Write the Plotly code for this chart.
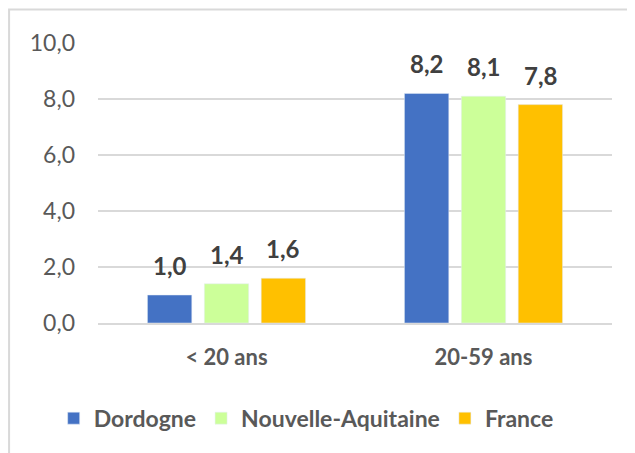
import plotly.graph_objects as go

categories = ["< 20 ans", "20-59 ans"]
series_names = ["Dordogne", "Nouvelle-Aquitaine", "France"]
dordogne = [1.0, 8.2]
nouvelle_aquitaine = [1.4, 8.1]
france = [1.6, 7.8]
tick_vals = [0, 2, 4, 6, 8, 10]

colors = ["#4472C4", "#CCFF99", "#FFC000"]
font_fam = "Lato, Open Sans, sans-serif"
BARGAP = 0.336
GROUPGAP = 0.22

fig = go.Figure()
all_series = [dordogne, nouvelle_aquitaine, france]
for name, vals, col in zip(series_names, all_series, colors):
    fig.add_trace(go.Bar(x=categories, y=vals, name=name, marker_color=col))

# data labels placed above each bar via data coordinates
slot = (1 - BARGAP) / len(all_series)
annotations = []
for i, vals in enumerate(all_series):
    for j, v in enumerate(vals):
        annotations.append(dict(
            x=j + (i - (len(all_series) - 1) / 2) * slot, y=v,
            xref="x", yref="y", text=f"{v:.1f}".replace(".", ","),
            showarrow=False, yanchor="bottom", yshift=13,
            font=dict(size=24, color="#404040", family=font_fam, weight="bold"),
        ))

fig.update_layout(
    width=635, height=453,
    margin=dict(l=90, r=31, t=35, b=138),
    paper_bgcolor="white", plot_bgcolor="white",
    barmode="group", bargap=BARGAP, bargroupgap=GROUPGAP,
    separators=", ",
    font=dict(family=font_fam, color="#595959"),
    yaxis=dict(range=[0, 10], tickvals=tick_vals, tickformat=".1f",
               showgrid=True, gridcolor="#D9D9D9", gridwidth=2,
               zeroline=False, ticks="", ticklabelstandoff=22,
               tickfont=dict(size=23, color="#595959")),
    xaxis=dict(showline=True, linecolor="#D9D9D9", linewidth=2, ticks="",
               tickfont=dict(size=22, color="#595959", weight="bold"),
               ticklabelstandoff=14),
    legend=dict(orientation="h", x=0.405, xanchor="center", y=-0.34, yanchor="middle",
                font=dict(size=23, color="#595959", weight="bold"),
                itemwidth=30, traceorder="normal"),
    showlegend=True,
    annotations=annotations,
    shapes=[dict(type="rect", xref="paper", yref="paper",
                 x0=-0.173, x1=1.2, y0=-0.6, y1=1.12,
                 line=dict(color="#D9D9D9", width=2), fillcolor="rgba(0,0,0,0)")],
)

fig.write_html("out.html")
